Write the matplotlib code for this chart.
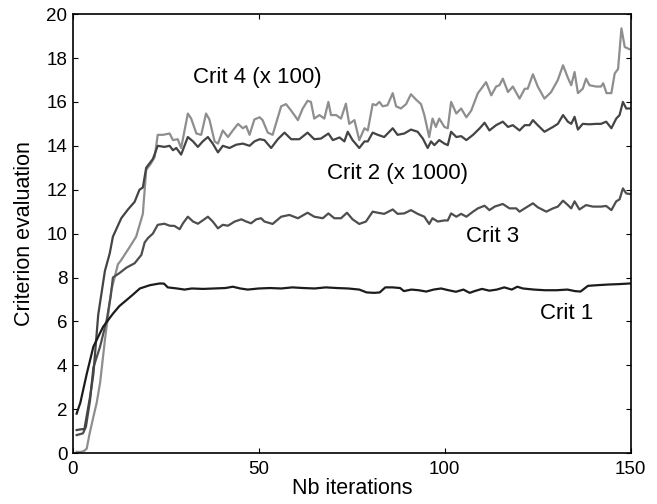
import matplotlib
matplotlib.use('Agg')
import matplotlib.pyplot as plt

OUTPUT_PATH = 'out.png'

plt.rcParams['font.family'] = ['Liberation Sans', 'DejaVu Sans']

# Criterion values per iteration (crit 2 scaled x1000, crit 4 scaled x100)
crit1_x = [1, 2, 3.7, 5.5, 8.1, 10.8, 12.5, 14.4, 16, 18, 20.7, 23.4, 24.5, 25.5, 28, 30, 32, 35, 38, 41,
           43, 45, 47, 50, 53, 56, 59, 62, 65, 68, 71, 74, 77, 79, 81, 82.5, 84, 86, 88, 89, 91, 93, 95, 97,
           99, 101, 103, 105, 106.7, 108, 110, 112, 114, 116, 118, 119.5, 121, 124, 127, 130, 133, 135,
           136.5, 138.5, 141, 144, 147, 150]
crit1_y = [1.8, 2.3, 3.6, 4.85, 5.75, 6.36, 6.7, 6.97, 7.2, 7.5, 7.65, 7.73, 7.72, 7.55, 7.5, 7.45, 7.5,
           7.48, 7.5, 7.52, 7.58, 7.5, 7.45, 7.5, 7.52, 7.5, 7.55, 7.52, 7.5, 7.55, 7.52, 7.5, 7.45, 7.32,
           7.3, 7.32, 7.55, 7.55, 7.52, 7.38, 7.45, 7.42, 7.36, 7.45, 7.5, 7.42, 7.35, 7.45, 7.3, 7.38,
           7.48, 7.4, 7.45, 7.55, 7.45, 7.58, 7.5, 7.45, 7.42, 7.42, 7.45, 7.38, 7.36, 7.62, 7.65, 7.68,
           7.7, 7.73]

crit2_x = [1, 2, 3.1, 4.6, 5.5, 6.8, 8.6, 9.9, 10.75, 13, 14.8, 16.6, 17.9, 18.8, 19.7, 21.5, 22.8, 24.6,
           26, 26.9, 27.8, 29.1, 30.9, 32.3, 33.6, 34.9, 36.3, 37.6, 39, 40.3, 42.1, 43.9, 45.7, 47.5, 48.8,
           50.2, 51.5, 53.3, 55.1, 56.9, 58.7, 60.9, 63.1, 64.9, 66.7, 68.7, 69.9, 71.7, 73, 73.9, 75.2,
           77, 78.4, 79.3, 80.6, 82, 83.7, 86, 87.3, 89.1, 90.9, 92.7, 94.1, 95.4, 96.3, 97.2, 98.5, 99.9,
           100.8, 101.7, 103.1, 104.4, 105.8, 107.6, 109.4, 110.7, 112, 113.8, 115.6, 117, 118.3, 120.1,
           121.5, 122.8, 123.7, 125, 126.8, 129.1, 130.4, 131.8, 133.1, 134, 134.9, 135.8, 137.1, 138.9,
           140.7, 142, 143.4, 144.8, 146.1, 147, 147.9, 148.8, 150]
crit2_y = [1.05, 1.08, 1.1, 2.56, 3.6, 6.3, 8.3, 9.1, 9.86, 10.7, 11.1, 11.45, 12.0, 12.1, 13.0, 13.4, 14.0,
           13.95, 14.0, 13.8, 13.9, 13.6, 14.4, 14.2, 13.95, 14.2, 14.4, 14.1, 13.7, 14.0, 13.9, 14.05,
           14.1, 14.0, 14.2, 14.3, 14.26, 13.9, 14.3, 14.6, 14.3, 14.3, 14.6, 14.3, 14.33, 14.56, 14.26,
           14.38, 14.2, 14.64, 14.26, 13.9, 14.2, 14.2, 14.6, 14.5, 14.4, 14.8, 14.5, 14.56, 14.74, 14.64,
           14.33, 13.9, 14.2, 14.03, 14.26, 14.1, 14.03, 14.64, 14.4, 14.44, 14.26, 14.5, 14.8, 15.05,
           14.7, 14.94, 15.1, 14.86, 14.94, 14.7, 14.94, 14.94, 15.17, 14.94, 14.64, 14.86, 15.0, 15.4,
           15.1, 15.0, 15.32, 14.74, 15.0, 14.98, 15.0, 15.0, 15.1, 14.8, 15.24, 15.4, 16.0, 15.7, 15.7]

crit3_x = [1, 2.7, 3.5, 4.6, 5.5, 7.3, 9.1, 10.2, 10.75, 12.5, 14.4, 16.6, 18.4, 19.3, 20.2, 21.5, 22.8,
           24.6, 26, 27.3, 28.7, 29.6, 30.9, 32.3, 33.6, 34.9, 36.3, 37.6, 39, 40.3, 41.7, 43.5, 45.3,
           46.6, 47.9, 49.3, 50.6, 51.5, 53.7, 56, 58.2, 60.5, 63.1, 64.9, 67.2, 68.7, 70.3, 72.1, 73.7,
           75.2, 77, 78.8, 80.6, 82, 83.7, 86, 87.3, 89.1, 90.9, 92.7, 94.5, 95.8, 96.7, 98.1, 99.9,
           100.8, 101.7, 103.1, 104.4, 105.8, 107.6, 108.9, 110.7, 112, 113.4, 115.6, 117.4, 119.2, 120.1,
           121.5, 123.7, 125, 127.3, 129.1, 130.4, 131.8, 133.1, 134, 134.9, 136.2, 138, 139.8, 142,
           143.4, 144.8, 146.1, 147, 147.9, 148.8, 150]
crit3_y = [0.82, 0.9, 1.2, 2.4, 3.9, 4.85, 6.08, 7.2, 8.0, 8.2, 8.45, 8.65, 9.03, 9.6, 9.8, 10.0, 10.4,
           10.45, 10.36, 10.35, 10.2, 10.47, 10.77, 10.55, 10.45, 10.6, 10.77, 10.55, 10.24, 10.4, 10.36,
           10.55, 10.65, 10.55, 10.47, 10.65, 10.7, 10.55, 10.44, 10.77, 10.85, 10.7, 10.95, 10.77, 10.7,
           10.92, 10.7, 10.7, 10.95, 10.65, 10.44, 10.55, 11.0, 10.95, 10.9, 11.1, 10.9, 10.92, 11.07,
           10.9, 10.77, 10.44, 10.7, 10.55, 10.6, 10.6, 10.92, 10.77, 10.9, 10.77, 11.0, 11.15, 11.27,
           11.07, 11.23, 11.35, 11.15, 11.15, 11.0, 11.15, 11.38, 11.2, 11.0, 11.15, 11.23, 11.5, 11.3,
           11.15, 11.47, 11.1, 11.3, 11.23, 11.23, 11.26, 11.07, 11.47, 11.56, 12.06, 11.83, 11.8]

crit4_x = [1, 2, 3, 3.7, 4.5, 5.5, 6.4, 7.3, 8.6, 10.3, 12.1, 13, 15.3, 17, 18.8, 19.7, 21, 22, 22.8, 24.2,
           26, 26.9, 28.2, 29.1, 30.9, 31.8, 33.2, 34.5, 35.8, 36.7, 38.1, 39, 40.3, 41.7, 43, 44.4, 45.7,
           46.6, 47.5, 48.8, 50.2, 51, 52.4, 53.7, 56, 57.3, 58.7, 60.5, 61.8, 63.1, 64, 64.9, 66.3, 67.6,
           68.7, 69.4, 70.8, 72.1, 73.4, 74.3, 75.7, 77, 78.4, 79.3, 80.6, 81.5, 82.4, 83.3, 84.6, 86,
           86.9, 88.2, 89.6, 90.9, 92.3, 93.6, 94.5, 95.8, 96.7, 97.6, 98.5, 99.9, 100.8, 101.7, 103.1,
           104.4, 105.8, 107.1, 108.9, 109.8, 111.1, 112.5, 113.8, 114.7, 115.6, 117, 118.3, 120.1, 121.5,
           122.3, 123.7, 125, 126.8, 128.6, 130.4, 131.8, 133.1, 134, 134.9, 135.8, 137.1, 138, 138.9,
           140.7, 142, 142.6, 143.5, 144.8, 145.7, 146.6, 147.5, 148.4, 149.7]
crit4_y = [0.06, 0.05, 0.1, 0.2, 0.9, 1.65, 2.3, 3.2, 5.15, 7.4, 8.6, 8.8, 9.4, 9.86, 10.9, 12.9, 13.2,
           13.5, 14.5, 14.5, 14.56, 14.26, 14.3, 13.9, 15.47, 15.24, 14.56, 14.5, 15.47, 15.2, 14.2, 14.1,
           14.7, 14.4, 14.7, 15.0, 14.8, 14.9, 14.5, 15.2, 15.3, 15.17, 14.6, 14.5, 15.8, 15.9, 15.6,
           15.17, 15.7, 16.05, 16.0, 15.24, 15.4, 15.24, 16.0, 15.4, 15.4, 15.24, 15.92, 15.0, 15.17,
           14.26, 14.8, 14.7, 15.9, 15.85, 16.0, 15.8, 15.85, 16.4, 15.8, 15.7, 15.9, 16.35, 16.1, 15.9,
           15.4, 14.4, 15.24, 14.86, 15.24, 14.86, 14.8, 16.0, 15.47, 15.7, 15.3, 15.6, 16.4, 16.6, 16.9,
           16.3, 16.7, 16.76, 17.06, 16.45, 16.7, 16.15, 16.6, 16.6, 17.26, 16.7, 16.15, 16.45, 17.0,
           17.67, 17.1, 16.76, 17.36, 16.4, 16.6, 17.06, 16.76, 16.7, 16.7, 16.85, 16.4, 16.4, 17.3, 17.5,
           19.35, 18.5, 18.4]

labels = ['Crit 1', 'Crit 2 (x 1000)', 'Crit 3', 'Crit 4 (x 100)']
label_pos = [(125.5, 6.36), (68.2, 12.75), (105.7, 9.85), (32.3, 17.1)]
colors = ['#1c1c1c', '#444444', '#4e4e4e', '#8e8e8e']


def main():
    fig = plt.figure(figsize=(6.57, 5.04), dpi=100)
    ax = fig.add_axes([0.111, 0.101, 0.849, 0.871])

    series = [(crit1_x, crit1_y), (crit2_x, crit2_y), (crit3_x, crit3_y), (crit4_x, crit4_y)]
    # light curve first so the darker ones sit on top
    for i in [3, 2, 1, 0]:
        xs, ys = series[i]
        ax.plot(xs, ys, color=colors[i], linewidth=1.6, solid_joinstyle='round')

    for text, (tx, ty) in zip(labels, label_pos):
        ax.text(tx, ty, text, fontsize=16, ha='left', va='center', color='black')

    ax.set_xlim(0, 150)
    ax.set_ylim(0, 20)
    ax.set_xticks([0, 50, 100, 150])
    ax.set_yticks(range(0, 21, 2))
    ax.tick_params(direction='in', top=True, right=True, length=3.5, width=0.8, labelsize=13.5)
    ax.tick_params(axis='x', pad=6)
    ax.tick_params(axis='y', pad=4)
    for spine in ax.spines.values():
        spine.set_linewidth(1.2)

    ax.set_xlabel('Nb iterations', fontsize=15.5, labelpad=0)
    ax.set_ylabel('Criterion evaluation', fontsize=15.5, labelpad=8)

    plt.savefig(OUTPUT_PATH, dpi=100)
    plt.close()


if __name__ == "__main__":
    main()
